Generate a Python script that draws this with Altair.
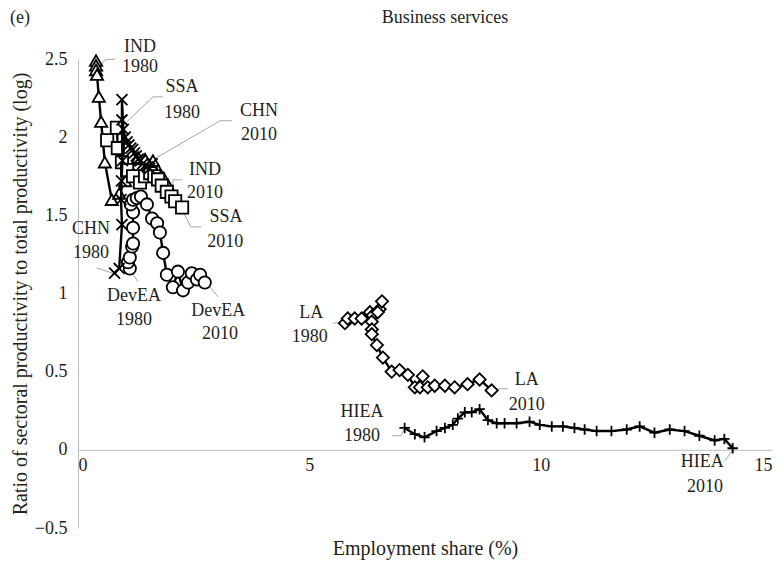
import altair as alt
import pandas as pd

# ---------------- data ----------------
ind_x = [0.39, 0.39, 0.39, 0.41, 0.45, 0.50, 0.58, 0.73, 0.89, 1.02, 1.15, 1.30, 1.45, 1.62, 1.73, 1.85, 1.95, 2.05]
ind_y = [2.49, 2.46, 2.43, 2.40, 2.26, 2.10, 1.84, 1.60, 1.64, 1.72, 1.79, 1.87, 1.86, 1.85, 1.79, 1.74, 1.69, 1.63]

ssa_x = [0.63, 0.84, 0.86, 0.95, 1.06, 1.19, 1.34, 1.45, 1.56, 1.65, 1.73, 1.81, 1.92, 2.02, 2.10, 2.25]
ssa_y = [1.98, 2.06, 1.93, 1.84, 1.79, 1.75, 1.71, 1.75, 1.77, 1.75, 1.73, 1.69, 1.65, 1.62, 1.59, 1.55]

chn_x = [0.79, 0.89, 0.95, 0.93, 0.94, 0.96, 0.95, 0.95, 0.98, 1.02, 1.06, 1.10, 1.14, 1.18, 1.22, 1.26,
         1.30, 1.35, 1.40, 1.45, 1.50, 1.55, 1.60]
chn_y = [1.13, 1.16, 1.44, 1.60, 1.72, 1.85, 2.11, 2.24, 2.05, 2.00, 1.97, 1.95, 1.93, 1.92, 1.90, 1.88,
         1.86, 1.85, 1.83, 1.82, 1.81, 1.80, 1.83]

devea_x = [1.12, 1.08, 1.12, 1.17, 1.19, 1.19, 1.19, 1.14, 1.19, 1.27, 1.36, 1.49, 1.60, 1.71, 1.77, 1.84,
           1.92, 2.05, 2.16, 2.27, 2.38, 2.46, 2.57, 2.64, 2.74]
devea_y = [1.16, 1.20, 1.23, 1.30, 1.32, 1.42, 1.52, 1.57, 1.60, 1.61, 1.62, 1.57, 1.48, 1.45, 1.39, 1.26,
           1.12, 1.04, 1.14, 1.02, 1.07, 1.13, 1.09, 1.12, 1.07]

la_x = [5.77, 5.83, 5.98, 6.13, 6.31, 6.37, 6.52, 6.57, 6.48, 6.35, 6.35, 6.35, 6.46, 6.59, 6.78, 6.95,
        7.13, 7.28, 7.45, 7.39, 7.56, 7.71, 7.93, 8.14, 8.42, 8.68, 8.94]
la_y = [0.81, 0.84, 0.84, 0.84, 0.88, 0.86, 0.90, 0.95, 0.88, 0.82, 0.77, 0.74, 0.67, 0.59, 0.50, 0.51,
        0.48, 0.40, 0.47, 0.40, 0.40, 0.41, 0.41, 0.40, 0.42, 0.45, 0.38]

hiea_x = [7.06, 7.28, 7.49, 7.75, 7.93, 8.10, 8.21, 8.36, 8.51, 8.68, 8.86, 9.05, 9.22, 9.48, 9.76, 9.98,
          10.24, 10.48, 10.73, 10.95, 11.21, 11.53, 11.86, 12.14, 12.46, 12.79, 13.11, 13.43, 13.76, 13.97, 14.15]
hiea_y = [0.14, 0.10, 0.08, 0.12, 0.14, 0.16, 0.20, 0.24, 0.24, 0.26, 0.19, 0.17, 0.17, 0.17, 0.18, 0.16,
          0.15, 0.15, 0.14, 0.13, 0.12, 0.12, 0.13, 0.15, 0.11, 0.13, 0.12, 0.09, 0.06, 0.07, 0.01]

# data labels: (text, x, y) in data units
label_text = ["IND", "1980", "SSA", "1980", "CHN", "2010", "IND", "2010", "SSA", "2010",
              "CHN", "1980", "DevEA", "1980", "DevEA", "2010", "LA", "1980", "LA", "2010",
              "HIEA", "1980", "HIEA", "2010"]
label_x = [1.34, 1.34, 2.25, 2.25, 3.91, 3.91, 2.745, 2.745, 3.20, 3.18,
           0.28, 0.28, 1.21, 1.21, 3.03, 3.07, 5.04, 5.01, 9.70, 9.70,
           6.14, 6.14, 13.49, 13.55]
label_y = [2.575, 2.450, 2.322, 2.156, 2.168, 2.015, 1.791, 1.644, 1.490, 1.331,
           1.414, 1.260, 0.985, 0.832, 0.889, 0.742, 0.876, 0.723, 0.448, 0.288,
           0.243, 0.090, -0.077, -0.237]

# leader lines: id, x, y (data units)
leader_id = ["a", "a", "a", "b", "b", "b", "c", "c", "c", "d", "d", "d", "e", "e", "e",
             "f", "f", "g", "g", "h", "h", "i", "i", "j", "j", "k", "k", "k", "l", "l"]
leader_x = [0.80, 0.58, 0.475, 1.84, 1.62, 0.65, 3.33, 3.07, 1.62, 2.25, 2.05, 2.05, 2.25, 2.44, 2.66,
            0.41, 0.78, 1.12, 1.30, 2.85, 3.03, 5.51, 5.73, 9.06, 9.29, 6.79, 6.98, 7.05, 13.98, 14.16]
leader_y = [2.50, 2.495, 2.45, 2.258, 2.258, 1.983, 2.105, 2.105, 1.855, 1.727, 1.727, 1.625, 1.535, 1.426, 1.426,
            1.164, 1.126, 1.151, 1.075, 1.043, 0.979, 0.812, 0.812, 0.390, 0.390, 0.090, 0.090, 0.134, -0.07, 0.0]

# ---------------- build ----------------
FONT = "Liberation Serif"
TXT = "#231f20"

series = [
    ("IND", ind_x, ind_y, "triangle-up", 150),
    ("SSA", ssa_x, ssa_y, "square", 150),
    ("DevEA", devea_x, devea_y, "circle", 150),
    ("CHN", chn_x, chn_y, "M-1,-1L1,1M-1,1L1,-1", 120),
    ("LA", la_x, la_y, "diamond", 150),
    ("HIEA", hiea_x, hiea_y, "M-1,0L1,0M0,-1L0,1", 110),
]

xscale = alt.Scale(domain=[0, 15], nice=False, zero=False)
yscale = alt.Scale(domain=[-0.5, 2.5], nice=False, zero=False)

W, H = 694, 469

xaxis = alt.Axis(values=[0, 5, 10, 15], format="d", grid=False, ticks=False,
                 domainColor="#bfbfbf", domainWidth=1, labelPadding=7,
                 offset=-H / 6.0, labelFont=FONT, labelFontSize=18, labelColor=TXT,
                 title="Employment share (%)", titleFont=FONT, titleFontSize=20,
                 titleFontWeight="normal", titleColor=TXT, titleY=99,
                 titleBaseline="middle")
yaxis = alt.Axis(values=[-0.5, 0, 0.5, 1, 1.5, 2, 2.5], format=".1~f", grid=False, ticks=False,
                 domainColor="#bfbfbf", domainWidth=1, labelPadding=11,
                 labelFont=FONT, labelFontSize=18, labelColor=TXT,
                 title="Ratio of sectoral productivity to total productivity (log)",
                 titleFont=FONT, titleFontSize=20, titleFontWeight="normal", titleColor=TXT,
                 titleX=-58, titleY=H / 2.0, titleAngle=270, titleAlign="center",
                 titleBaseline="middle")


def X():
    return alt.X("x:Q", scale=xscale, axis=xaxis)


def Y():
    return alt.Y("y:Q", scale=yscale, axis=yaxis)


leaders = pd.DataFrame({"id": leader_id, "x": leader_x, "y": leader_y,
                        "i": list(range(len(leader_id)))})
leader_layer = alt.Chart(leaders).mark_line(color="#a6a6a6", strokeWidth=1).encode(
    x=X(), y=Y(), detail="id:N", order="i:Q")

layers = []
for name, xs, ys, shape, size in series:
    df = pd.DataFrame({"x": xs, "y": ys, "i": list(range(len(xs))), "s": name})
    base = alt.Chart(df)
    line = base.mark_line(color="black", strokeWidth=2.4).encode(x=X(), y=Y(), order="i:Q")
    pts = base.mark_point(shape=shape, size=size, filled=True, fill="white", stroke="black",
                          strokeWidth=1.8, opacity=1).encode(x=X(), y=Y())
    layers += [line, pts]

labels = pd.DataFrame({"t": label_text, "x": label_x, "y": label_y})
label_layer = alt.Chart(labels).mark_text(font=FONT, fontSize=18, color=TXT,
                                          align="center", baseline="middle").encode(
    x=X(), y=Y(), text="t:N")

head = alt.Chart(pd.DataFrame({"t": ["(e)", "Business services"], "px": [-58, 367], "py": [-41, -41]}))
panel = head.mark_text(font=FONT, fontSize=18, color=TXT, align="center", baseline="middle").encode(
    x=alt.X("px:Q", scale=None), y=alt.Y("py:Q", scale=None), text="t:N")

chart = alt.layer(leader_layer, *layers, label_layer, panel).properties(
    width=W, height=H,
    autosize=alt.AutoSizeParams(type="none"),
    padding={"left": 70, "top": 51, "right": 4, "bottom": 33},
).configure_view(stroke=None)

chart.save("out.html", embed_options={"renderer": "svg", "actions": False})
